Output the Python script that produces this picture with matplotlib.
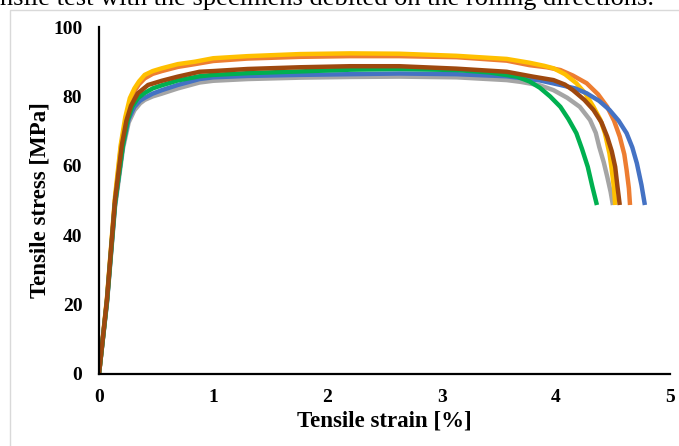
import matplotlib
matplotlib.use("Agg")
import matplotlib.pyplot as plt
from matplotlib.patches import Rectangle

# ---- data ----
gray_x = [0, 0.07, 0.14, 0.21, 0.26, 0.31, 0.36, 0.40, 0.47, 0.55, 0.69, 0.88, 1.0, 1.3, 1.76, 2.2, 2.63, 3.13, 3.57, 3.69, 3.86, 3.98, 4.10, 4.21, 4.30, 4.35, 4.38, 4.42, 4.45, 4.48, 4.50]
gray_y = [0, 20.5, 48, 65, 72.5, 76, 78, 79, 80, 80.8, 82.3, 84.0, 84.5, 85.0, 85.4, 85.6, 85.7, 85.5, 84.7, 84.2, 83.2, 81.8, 79.6, 77.0, 73.2, 69.5, 65.5, 61.0, 56.9, 52.5, 48.7]

blue_x = [0, 0.07, 0.14, 0.21, 0.26, 0.31, 0.36, 0.40, 0.47, 0.55, 0.69, 0.88, 1.0, 1.3, 1.76, 2.2, 2.63, 3.13, 3.57, 3.69, 3.86, 4.04, 4.17, 4.27, 4.38, 4.47, 4.55, 4.62, 4.67, 4.71, 4.75, 4.78]
blue_y = [0, 21, 49, 66, 73.5, 77, 78.8, 79.6, 80.8, 81.8, 83.3, 85.0, 85.5, 85.9, 86.2, 86.4, 86.6, 86.4, 85.8, 85.3, 84.6, 83.3, 82.3, 80.9, 78.7, 76.1, 73.0, 69.4, 65.3, 60.7, 54.5, 48.7]

orange_x = [0, 0.07, 0.14, 0.19, 0.23, 0.27, 0.31, 0.35, 0.40, 0.47, 0.55, 0.69, 0.84, 1.0, 1.3, 1.76, 2.2, 2.63, 3.13, 3.57, 3.77, 3.92, 4.04, 4.15, 4.27, 4.37, 4.45, 4.51, 4.56, 4.60, 4.62, 4.64, 4.65]
orange_y = [0, 21.5, 50, 65, 72.5, 78, 81.5, 83.5, 85.2, 86.5, 87.3, 88.5, 89.3, 90.2, 90.9, 91.4, 91.6, 91.6, 91.3, 90.3, 89.0, 88.4, 87.6, 86.0, 83.8, 80.6, 77.0, 73.0, 68.4, 63.3, 58.8, 53.5, 48.7]

yellow_x = [0, 0.07, 0.14, 0.19, 0.23, 0.27, 0.31, 0.35, 0.40, 0.47, 0.55, 0.69, 0.84, 1.0, 1.3, 1.76, 2.2, 2.63, 3.13, 3.57, 3.77, 3.90, 3.98, 4.08, 4.18, 4.26, 4.33, 4.39, 4.43, 4.47, 4.49, 4.51, 4.52]
yellow_y = [0, 22, 51, 66, 74, 79.5, 82.3, 84.3, 86.2, 87.3, 88.1, 89.3, 90.0, 91.0, 91.6, 92.2, 92.4, 92.3, 91.7, 90.8, 89.7, 88.8, 88.1, 86.4, 83.8, 80.8, 77.0, 73.3, 69.4, 63.5, 58.8, 53.5, 48.7]

green_x = [0, 0.07, 0.14, 0.21, 0.25, 0.29, 0.34, 0.40, 0.47, 0.55, 0.69, 0.88, 1.0, 1.3, 1.76, 2.2, 2.63, 3.13, 3.42, 3.66, 3.77, 3.86, 3.95, 4.04, 4.11, 4.18, 4.23, 4.28, 4.32, 4.36]
green_y = [0, 21, 49, 66, 73, 77, 79.5, 81, 82.3, 83.2, 84.6, 85.8, 86.2, 86.7, 87.2, 87.7, 87.9, 87.6, 86.9, 85.7, 84.3, 82.5, 80.0, 77.0, 73.5, 69.4, 64.8, 59.7, 54.0, 48.7]

brown_x = [0, 0.07, 0.14, 0.20, 0.24, 0.28, 0.34, 0.43, 0.55, 0.69, 0.88, 1.0, 1.3, 1.76, 2.2, 2.63, 3.13, 3.57, 3.80, 3.98, 4.08, 4.15, 4.25, 4.33, 4.40, 4.45, 4.49, 4.52, 4.54, 4.56]
brown_y = [0, 21.5, 50, 66, 73, 77.3, 80.9, 83.3, 84.5, 85.7, 87.1, 87.3, 87.9, 88.4, 88.7, 88.7, 88.0, 87.1, 85.7, 84.7, 83.4, 81.8, 79.0, 76.1, 72.5, 68.4, 64.2, 59.7, 54.0, 48.7]

x_ticks = [0, 1, 2, 3, 4, 5]
y_ticks = [0, 20, 40, 60, 80, 100]

series = [
    (gray_x, gray_y, "#A5A5A5"),
    (orange_x, orange_y, "#ED7D31"),
    (yellow_x, yellow_y, "#FFC000"),
    (blue_x, blue_y, "#4472C4"),
    (green_x, green_y, "#00B050"),
    (brown_x, brown_y, "#9E480E"),
]

W, H = 679, 446
fig = plt.figure(figsize=(W / 100, H / 100), dpi=100)
serif = ["Liberation Serif", "DejaVu Serif"]

# light frame around the chart
fig.patches.append(Rectangle((9.5 / W, -0.1), 1.2, 1.1 - 10.3 / H, transform=fig.transFigure,
                             fill=False, edgecolor="#D9D9D9", linewidth=1.0))
# clipped caption from the page above
fig.text(0.0, 1 - 5.5 / H, "nsile test with the specimens debited on the rolling directions.",
         family=serif, fontsize=19, ha="left", va="baseline", color="black")

ax = fig.add_axes([99 / W, (H - 374) / H, (670 - 99) / W, (374 - 27) / H])
for xs, ys, c in series:
    ax.plot(xs, ys, color=c, linewidth=3.2, solid_capstyle="butt", solid_joinstyle="round")

ax.set_xlim(0, 5)
ax.set_ylim(0, 100)
ax.set_xticks(x_ticks)
ax.set_yticks(y_ticks)
ax.set_xticklabels([str(t) for t in x_ticks], family=serif, fontweight="bold", fontsize=14)
ax.set_yticklabels([str(t) for t in y_ticks], family=serif, fontweight="bold", fontsize=14)
ax.tick_params(axis="both", length=0)
ax.tick_params(axis="x", pad=11)
ax.tick_params(axis="y", pad=12)
for s in ["top", "right"]:
    ax.spines[s].set_visible(False)
for s in ["left", "bottom"]:
    ax.spines[s].set_linewidth(1.6)
    ax.spines[s].set_color("black")

ax.set_xlabel("Tensile strain [%]", family=serif, fontweight="bold", fontsize=16.5, labelpad=3)
ax.set_ylabel("Tensile stress [MPa]", family=serif, fontweight="bold", fontsize=16.5, labelpad=2)

fig.savefig("out.png", dpi=100)
